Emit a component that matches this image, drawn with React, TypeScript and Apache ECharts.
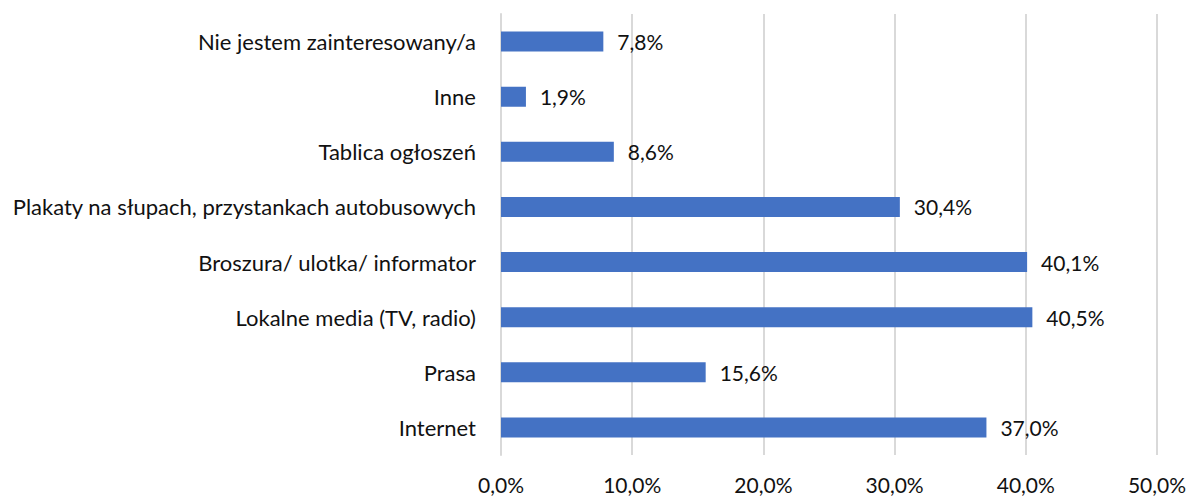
import React, { useEffect, useRef } from "react";
import * as echarts from "echarts";

const categories = [
  "Internet",
  "Prasa",
  "Lokalne media (TV, radio)",
  "Broszura/ ulotka/ informator",
  "Plakaty na słupach, przystankach autobusowych",
  "Tablica ogłoszeń",
  "Inne",
  "Nie jestem zainteresowany/a",
];
const values = [37.0, 15.6, 40.5, 40.1, 30.4, 8.6, 1.9, 7.8];
const axisMax = 50;
const axisInterval = 10;

const fmt = (v: number) => v.toFixed(1).replace(".", ",") + "%";

export default function App() {
  const ref = useRef<HTMLDivElement>(null);
  useEffect(() => {
    if (!ref.current) return;
    const chart = echarts.init(ref.current, undefined, { renderer: "svg" });
    const font = "Lato, sans-serif";
    chart.setOption({
      animation: false,
      grid: { left: 501, right: 38, top: 14, bottom: 42, containLabel: false },
      xAxis: {
        type: "value",
        min: 0,
        max: axisMax,
        interval: axisInterval,
        axisLine: { show: false },
        axisTick: { show: false },
        splitLine: { lineStyle: { color: "#d9d9d9", width: 2 } },
        axisLabel: {
          formatter: (v: number) => fmt(v),
          color: "#111",
          fontSize: 21,
          lineHeight: 21,
          fontFamily: font,
          margin: 19,
        },
      },
      yAxis: {
        type: "category",
        data: categories,
        axisLine: { show: true, lineStyle: { color: "#d9d9d9", width: 2 } },
        axisTick: { show: false },
        axisLabel: {
          color: "#111",
          fontSize: 22,
          fontFamily: font,
          margin: 25,
        },
      },
      series: [
        {
          type: "bar",
          data: values,
          barWidth: 20,
          itemStyle: { color: "#4472C4" },
          label: {
            show: true,
            position: "right",
            distance: 14,
            formatter: (p: any) => fmt(p.value),
            color: "#111",
            fontSize: 21,
            fontFamily: font,
          },
        },
      ],
    });
    return () => chart.dispose();
  }, []);
  return <div ref={ref} style={{ width: 1195, height: 497, position: "absolute", left: 0, top: 0, background: "#fff" }} />;
}
